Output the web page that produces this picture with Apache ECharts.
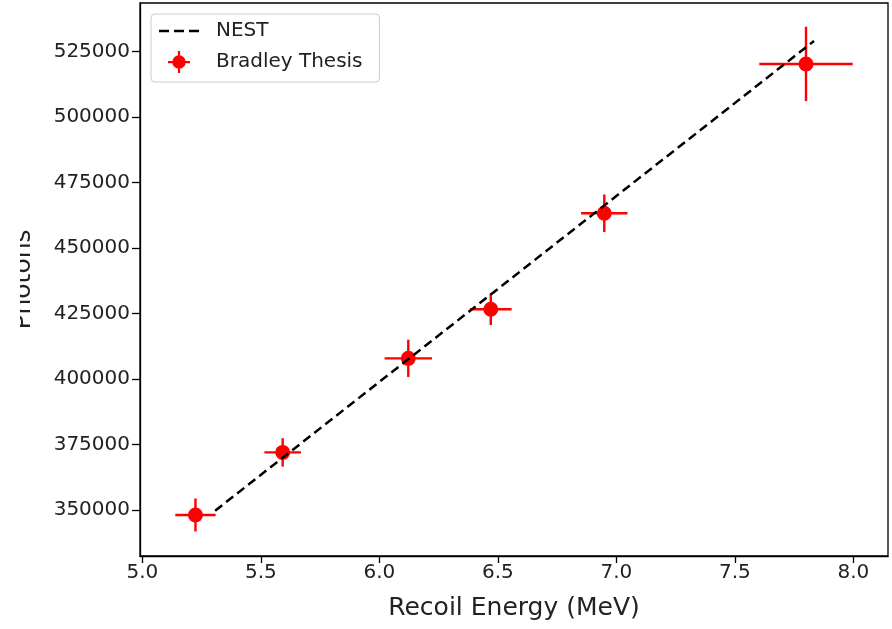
<!DOCTYPE html>
<html>
<head>
<meta charset="utf-8">
<script src="https://cdn.jsdelivr.net/npm/echarts@6/dist/echarts.min.js"></script>
<style>
html,body{margin:0;padding:0;background:#fff;}
#chart{width:892px;height:629px;}
</style>
</head>
<body>
<div id="chart"></div>
<script>
// Data
const energies    = [5.224, 5.592, 6.122, 6.470, 6.949, 7.800];   // MeV
const photons     = [348100, 372000, 407900, 426650, 463300, 520330];
const energyErr   = [0.085, 0.077, 0.100, 0.088, 0.098, 0.197];
const photonsErr  = [6300, 5420, 7140, 6030, 7180, 14200];
const nestEnergy  = [5.307, 7.834];
const nestPhotons = [349730, 529110];
const xTicks = [5.0, 5.5, 6.0, 6.5, 7.0, 7.5, 8.0];
const yTicks = [350000, 375000, 400000, 425000, 450000, 475000, 500000, 525000];

const FONT = 'DejaVu Sans';
const RED = '#ff0000';

const pointData = energies.map((e, i) => [e, photons[i], energyErr[i], photonsErr[i]]);
const nestData = nestEnergy.map((e, i) => [e, nestPhotons[i]]);

const chart = echarts.init(document.getElementById('chart'), null, {renderer: 'canvas'});

const pointIcon = 'path://M0,10h22v2.2h-22z M9.9,0h2.2v22h-2.2z M4.3,11a6.7,6.7 0 1,1 13.4,0a6.7,6.7 0 1,1 -13.4,0z';
const dashIcon = 'path://M0,0h10v2.5h-10z M15,0h10v2.5h-10z M30,0h10v2.5h-10z';

chart.setOption({
  animation: false,
  backgroundColor: '#ffffff',
  textStyle: {fontFamily: FONT},
  grid: {left: 140, right: 4, top: 3, bottom: 73, show: true, borderColor: '#000', borderWidth: 1.3, backgroundColor: 'transparent'},
  legend: {
    left: 151, top: 14, orient: 'vertical',
    itemWidth: 40, itemHeight: 22, itemGap: 10,
    padding: [7, 17, 9, 8],
    backgroundColor: 'rgba(255,255,255,0.8)',
    borderColor: '#cccccc', borderWidth: 1, borderRadius: 4,
    textStyle: {fontFamily: FONT, fontSize: 20, color: '#222', padding: [0, 0, 0, 12]},
    data: [
      {name: 'NEST', icon: dashIcon, itemStyle: {color: '#000'}},
      {name: 'Bradley Thesis', icon: pointIcon, itemStyle: {color: RED}}
    ]
  },
  xAxis: {
    type: 'value', min: 4.99, max: 8.146,
    name: 'Recoil Energy (MeV)', nameLocation: 'middle', nameGap: 40,
    nameTextStyle: {fontFamily: FONT, fontSize: 25, color: '#222'},
    axisLine: {show: true, lineStyle: {color: '#000', width: 1.3}},
    axisTick: {show: true, length: 7, lineStyle: {color: '#000', width: 1.3}, customValues: xTicks},
    axisLabel: {fontFamily: FONT, fontSize: 20, color: '#222', margin: 7, customValues: xTicks,
                formatter: v => Number(v).toFixed(1)},
    splitLine: {show: false}
  },
  yAxis: {
    type: 'value', min: 332435, max: 543596,
    name: 'Photons', nameLocation: 'middle', nameGap: 104, nameRotate: 90,
    nameTextStyle: {fontFamily: FONT, fontSize: 25, color: '#222'},
    axisLine: {show: true, lineStyle: {color: '#000', width: 1.3}},
    axisTick: {show: true, length: 8, lineStyle: {color: '#000', width: 1.3}, customValues: yTicks},
    axisLabel: {fontFamily: FONT, fontSize: 20, color: '#222', margin: 10, customValues: yTicks,
                formatter: v => String(Math.round(v))},
    splitLine: {show: false}
  },
  graphic: [
    {type: 'rect', left: 0, top: 0, shape: {width: 20, height: 629}, style: {fill: '#ffffff'}, z: 100}
  ],
  series: [
    {
      name: 'Bradley Thesis', type: 'custom', data: pointData,
      itemStyle: {color: RED}, z: 2,
      encode: {x: 0, y: 1},
      renderItem: function (params, api) {
        const x = api.value(0), y = api.value(1), ex = api.value(2), ey = api.value(3);
        const l = api.coord([x - ex, y]), r = api.coord([x + ex, y]);
        const t = api.coord([x, y + ey]), b = api.coord([x, y - ey]);
        const st = {stroke: RED, lineWidth: 2.4};
        return {type: 'group', children: [
          {type: 'line', shape: {x1: l[0], y1: l[1], x2: r[0], y2: r[1]}, style: st},
          {type: 'line', shape: {x1: t[0], y1: t[1], x2: b[0], y2: b[1]}, style: st}
        ]};
      }
    },
    {
      name: 'Bradley Thesis', type: 'scatter', data: pointData,
      symbol: 'circle', symbolSize: 15, itemStyle: {color: RED, opacity: 1}, z: 3,
      encode: {x: 0, y: 1}
    },
    {
      name: 'NEST', type: 'line', data: nestData, showSymbol: false, symbol: 'none',
      itemStyle: {color: '#000'},
      lineStyle: {color: '#000', width: 2.5, type: [9, 5]}, z: 4
    }
  ]
});
</script>
</body>
</html>
